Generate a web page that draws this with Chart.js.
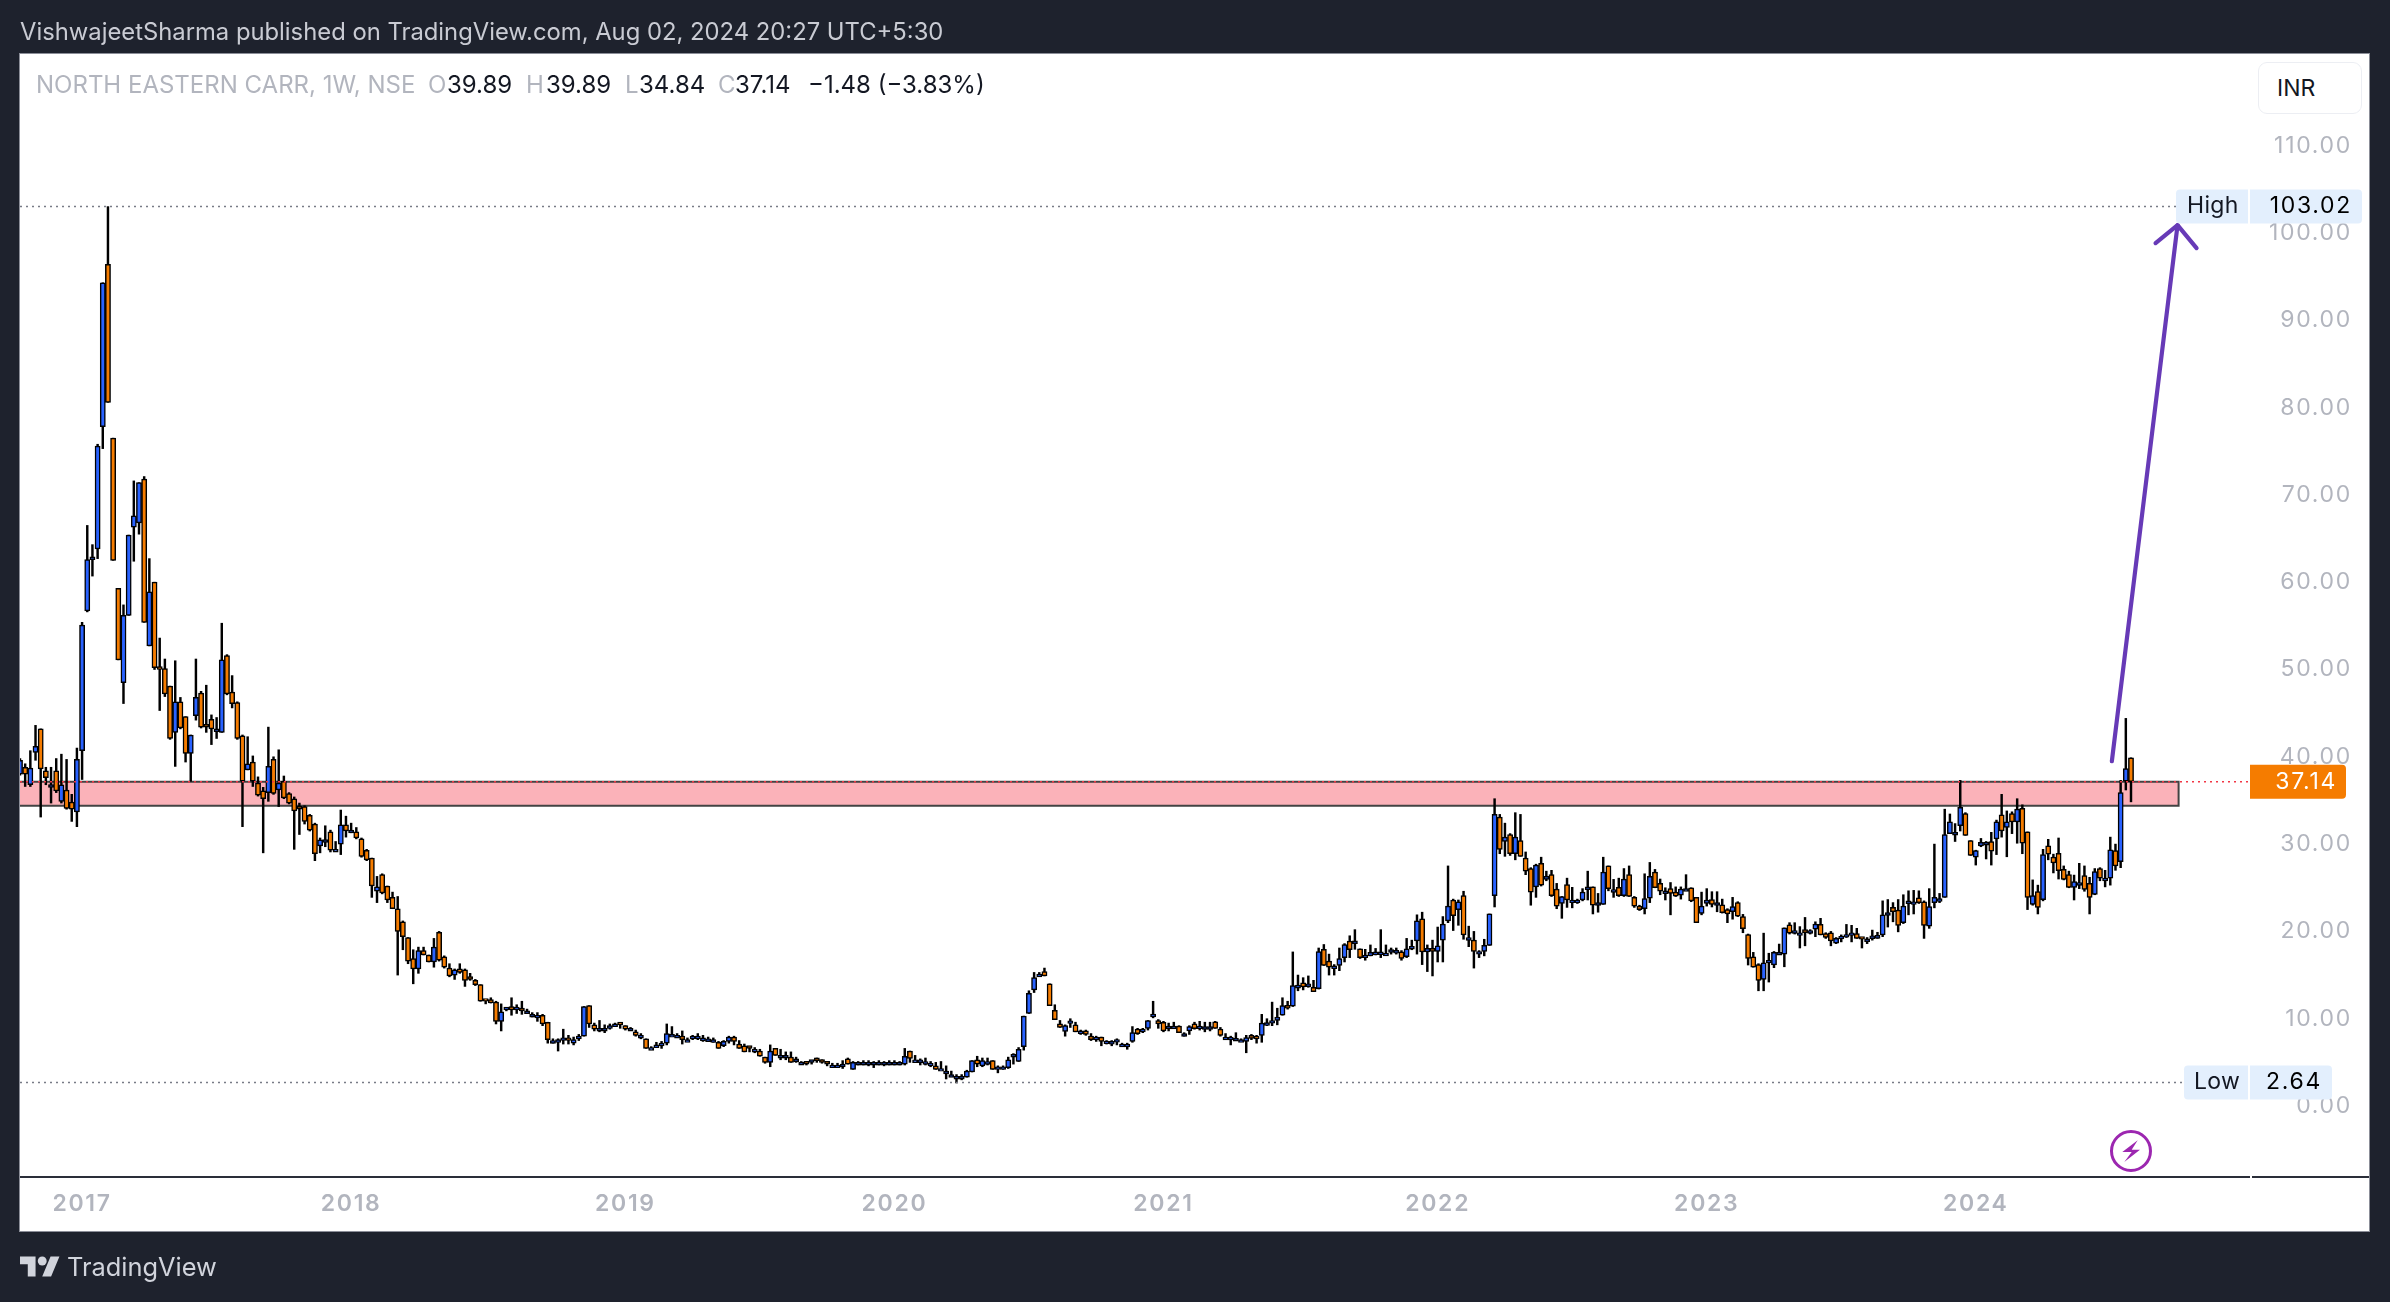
<!DOCTYPE html>
<html><head><meta charset="utf-8">
<script src="https://cdn.jsdelivr.net/npm/chart.js@4"></script>
<style>
html,body{margin:0;padding:0;background:#1e222d;width:2390px;height:1302px;overflow:hidden;font-family:Inter,"Noto Sans",sans-serif}
#wrap{position:absolute;left:0;top:0;width:2390px;height:1302px;overflow:hidden}
canvas{position:absolute;left:0;top:0;display:block}
.t{position:absolute;white-space:pre;line-height:1}
</style></head><body>
<div id="wrap"><canvas id="c" width="2390" height="1302"></canvas></div>
<div class="t" id="pub" style="left:20px;top:20px;font-size:23.8px;color:#c9cbd3">VishwajeetSharma published on TradingView.com, Aug 02, 2024 20:27 UTC+5:30</div>
<div class="t" style="left:36px;top:73px;font-size:24px;color:#b2b5be">NORTH EASTERN CARR, 1W, NSE</div>
<div class="t" style="left:428px;top:73px;font-size:24px;color:#b2b5be">O</div><div class="t" style="left:447px;top:73px;font-size:24px;color:#131722">39.89</div>
<div class="t" style="left:526px;top:73px;font-size:24px;color:#b2b5be">H</div><div class="t" style="left:546px;top:73px;font-size:24px;color:#131722">39.89</div>
<div class="t" style="left:625px;top:73px;font-size:24px;color:#b2b5be">L</div><div class="t" style="left:639px;top:73px;font-size:24px;color:#131722">34.84</div>
<div class="t" style="left:718px;top:73px;font-size:24px;color:#b2b5be">C</div><div class="t" style="left:735px;top:73px;font-size:24px;color:#131722">37.14</div>
<div class="t" style="left:808px;top:73px;font-size:24px;color:#131722">−1.48 (−3.83%)</div>
<div style="position:absolute;left:2258px;top:62px;width:102px;height:50px;border:1.5px solid #eceef3;border-radius:9px;background:#fff"></div>
<div class="t" style="left:2277px;top:77px;font-size:23px;color:#131722">INR</div>
<svg style="position:absolute;left:20px;top:1252px" width="40" height="28" viewBox="0 0 36 25"><path fill="#d1d4dc" d="M14 22H7V11H0V4h14v18zM28 22h-8l7.5-18h8L28 22z"/><circle cx="20" cy="8" r="4" fill="#d1d4dc"/></svg>
<div class="t" style="left:67px;top:1254px;font-size:25.4px;color:#d1d4dc">TradingView</div>
<script>
const opens=[
38.0,38.8,36.8,40.5,43.2,38.4,36.5,38.4,34.9,36.2,
34.8,33.7,40.7,56.7,62.9,63.8,77.8,96.4,76.5,59.3,
48.5,56.2,66.3,66.8,71.8,52.7,60.0,50.3,50.1,48.1,
42.8,46.3,44.6,40.4,44.7,47.3,43.5,44.3,43.2,42.8,
51.6,47.4,46.2,42.4,38.5,39.4,37.0,36.1,35.9,39.7,
36.2,37.2,35.8,35.2,34.1,34.3,33.3,32.3,29.8,30.2,
31.4,29.4,30.0,32.2,31.6,31.4,30.6,29.3,28.4,24.6,
26.5,25.2,23.9,22.6,21.1,19.3,16.9,15.7,17.8,17.3,
16.5,19.9,17.1,15.8,15.0,15.7,15.6,14.6,14.4,13.9,
12.1,12.2,11.9,9.7,11.0,11.4,11.0,11.2,10.9,10.5,
10.4,10.4,9.6,7.5,7.6,7.5,7.8,7.2,8.0,8.0,
11.5,9.3,8.9,8.9,9.2,9.4,9.4,9.2,8.9,8.5,
8.1,7.7,6.7,7.0,7.2,7.2,8.2,8.1,8.0,7.6,
8.0,8.0,7.8,7.7,7.6,7.3,6.9,7.4,7.9,7.1,
6.9,6.7,6.5,6.3,5.6,5.0,6.6,5.8,5.8,5.6,
5.4,5.0,4.9,5.0,5.3,5.1,4.9,4.7,4.7,4.8,
5.4,4.2,5.0,5.0,5.0,5.0,5.0,5.0,5.0,5.0,
5.0,4.8,6.3,5.3,5.3,5.1,4.9,4.6,4.3,4.0,
3.6,3.4,3.4,3.3,3.9,5.3,4.6,5.1,5.2,4.5,
4.5,4.4,5.6,5.1,6.8,10.6,13.3,15.1,15.4,14.0,
10.95,9.4,8.55,9.45,9.3,8.6,8.6,8.0,7.9,7.9,
7.45,7.4,7.3,7.1,7.1,7.4,8.8,8.8,8.9,10.2,
9.8,9.6,9.15,9.15,9.15,8.3,8.6,9.4,8.85,9.1,
9.1,9.65,8.8,7.9,7.9,7.75,7.6,7.4,8.1,8.0,
8.1,9.55,9.8,9.8,10.4,11.5,11.45,13.5,14.1,14.0,
13.6,13.45,17.95,16.6,16.05,16.1,17.0,18.9,18.6,18.0,
17.3,17.2,17.65,17.65,17.5,17.6,17.5,17.65,17.1,18.3,
18.9,21.45,17.65,18.05,17.7,19.0,21.2,23.6,22.5,24.1,
19.3,19.0,17.7,17.7,18.4,24.1,33.1,30.3,31.1,28.9,
30.4,28.4,27.2,25.1,27.8,25.96,26.5,24.85,23.2,25.35,
23.6,23.6,23.6,25.1,25.1,23.3,23.1,27.5,24.8,25.05,
24.1,26.5,23.9,22.9,22.6,23.8,26.8,25.5,24.65,24.9,
24.5,24.15,24.9,25.0,23.9,22.05,23.2,23.65,23.3,23.05,
22.5,22.25,23.3,21.7,19.65,17.1,16.2,14.5,16.7,16.15,
17.6,17.4,20.75,20.1,19.85,20.2,20.1,20.25,20.8,19.75,
19.85,18.65,19.45,19.65,19.85,19.75,19.15,19.15,19.5,19.2,
19.6,22.15,22.75,22.45,21.0,23.5,23.4,23.85,23.4,20.6,
23.3,23.75,23.9,31.2,31.35,32.1,33.5,30.4,28.5,29.8,
30.2,30.3,30.6,33.35,31.9,33.5,32.55,34.1,31.4,23.1,
24.55,23.65,29.8,28.5,28.95,27.1,26.5,25.05,25.6,26.4,
25.5,24.25,27.2,26.1,26.1,29.25,28.0,37.2,39.89];
const highs=[
39.8,39.2,40.7,43.6,43.2,38.8,38.8,39.8,40.3,39.7,
35.7,41.0,55.4,66.5,64.3,75.8,94.3,103.02,76.5,59.3,
57.4,65.4,71.6,71.4,72.1,62.7,60.0,53.6,51.2,48.1,
51.0,46.8,44.6,42.5,51.2,47.5,48.2,44.8,44.5,55.3,
51.7,49.3,46.3,42.5,42.3,40.1,37.7,36.5,43.4,40.0,
40.8,37.8,35.9,35.4,34.7,34.4,33.4,32.4,30.7,32.1,
31.6,30.3,33.9,33.2,32.4,31.9,30.7,29.4,28.4,26.3,
26.6,25.2,24.5,24.0,21.2,19.3,17.9,18.2,18.2,17.3,
19.2,20.0,17.2,16.3,15.7,16.3,15.7,15.2,14.5,13.9,
12.1,12.4,12.0,11.7,11.3,12.4,11.6,12.0,11.1,10.7,
10.7,10.5,9.6,7.7,7.7,8.8,8.1,7.9,8.2,11.4,
11.5,9.5,9.8,9.3,9.4,9.5,9.4,9.2,9.0,8.7,
8.3,7.7,6.8,7.3,7.4,9.4,9.1,8.3,8.6,7.8,
8.1,8.3,8.1,7.9,7.8,7.4,7.5,8.0,8.0,7.5,
7.1,6.8,6.7,6.5,5.6,7.0,6.6,6.5,6.2,6.2,
5.6,5.1,5.0,5.2,5.5,5.3,5.0,4.9,4.9,5.2,
5.5,5.1,5.1,5.2,5.2,5.1,5.2,5.1,5.2,5.2,
5.1,6.6,6.3,5.8,5.4,5.5,5.1,5.0,5.1,4.6,
4.0,3.6,3.6,4.1,5.2,5.7,5.5,5.5,5.2,4.6,
4.6,5.6,6.0,6.7,10.3,13.2,15.3,15.3,15.8,14.0,
11.6,9.8,9.3,10.0,9.6,8.7,8.7,8.3,8.0,7.9,
7.5,7.5,7.7,7.2,7.2,9.1,8.9,8.9,9.8,12.0,
9.9,9.7,9.5,9.6,9.2,8.4,9.2,9.6,9.7,9.6,
9.6,9.7,9.0,8.3,8.0,8.4,7.7,8.1,8.2,8.1,
10.5,10.0,11.9,11.2,12.4,12.0,17.65,15.0,14.7,14.9,
14.4,18.1,18.5,17.4,16.2,18.1,18.6,19.5,20.2,18.0,
17.95,18.45,18.05,20.2,18.45,18.1,18.1,17.8,19.2,19.0,
21.9,22.2,18.45,19.0,20.5,21.7,27.5,23.7,23.6,24.6,
20.6,20.0,17.8,19.1,22.0,35.2,33.4,32.4,31.2,33.6,
33.4,29.1,27.3,27.7,28.5,26.9,27.0,25.5,24.0,26.1,
25.05,23.7,24.9,26.9,25.1,24.35,28.5,27.5,25.96,26.1,
27.2,27.5,24.0,23.0,26.6,27.9,27.1,26.0,25.0,25.6,
25.1,25.1,26.5,25.0,23.9,24.5,24.9,24.55,24.55,23.7,
22.6,23.9,23.4,21.95,19.7,17.6,16.3,19.8,17.5,17.7,
18.55,20.4,21.0,21.0,20.55,21.6,20.2,21.1,21.5,19.85,
20.0,19.3,19.6,20.8,20.7,20.35,19.3,19.3,20.15,19.9,
23.5,23.65,23.3,23.65,24.2,24.65,24.7,24.65,23.5,24.9,
30.0,24.35,34.0,33.45,32.35,37.3,33.6,30.4,29.3,30.65,
30.3,31.35,32.75,35.7,33.8,33.7,35.2,34.5,31.4,25.9,
25.3,29.4,30.55,28.85,30.7,27.5,26.9,26.45,27.8,27.5,
26.2,27.2,27.3,27.0,30.8,30.0,37.3,44.4,39.89];
const lows=[
37.9,36.6,36.6,39.6,33.1,36.8,34.7,35.9,34.7,34.0,
32.6,32.0,37.4,56.6,60.7,62.7,75.3,80.6,62.5,51.1,
46.1,56.2,62.4,65.5,55.4,52.7,50.0,45.3,46.9,42.0,
38.9,43.2,39.4,37.2,44.2,43.3,42.8,41.4,42.1,42.8,
47.1,45.6,42.0,32.0,38.5,36.6,35.5,29.0,34.9,35.7,
34.3,35.2,34.6,29.4,31.1,32.3,31.5,28.1,29.0,29.7,
29.1,29.4,28.8,30.8,31.3,30.6,28.5,28.1,23.9,23.3,
24.3,23.3,22.6,15.0,17.9,16.3,14.0,15.2,17.3,16.5,
15.9,16.6,15.8,14.8,14.5,15.2,13.7,14.4,13.8,12.0,
11.7,11.8,9.4,8.6,10.9,10.4,10.6,10.5,10.6,10.2,
9.7,9.2,7.2,7.2,6.3,7.1,7.1,7.0,7.5,8.0,
9.0,8.6,8.5,8.4,8.8,9.2,8.9,8.7,8.7,8.0,
7.7,6.6,6.6,6.7,6.6,7.0,8.0,7.9,7.1,7.4,
7.6,7.6,7.4,7.4,7.3,6.6,6.8,7.2,7.0,6.6,
6.2,6.2,6.1,5.7,4.9,4.5,5.8,5.3,5.3,5.0,
5.0,4.9,4.7,4.8,5.0,4.9,4.6,4.5,4.5,4.3,
4.8,4.2,4.7,4.7,4.6,4.4,4.7,4.6,4.7,4.7,
4.7,4.7,5.0,5.2,4.7,4.7,4.5,4.2,4.2,3.1,
3.4,2.64,3.0,3.3,3.9,4.5,4.5,4.7,4.2,3.8,
4.2,4.3,4.8,5.1,6.4,10.6,13.0,14.9,14.9,11.5,
9.9,9.0,8.0,9.0,8.5,8.2,8.1,7.5,7.4,6.9,
7.1,6.9,7.0,6.8,6.5,7.3,8.2,8.4,8.7,10.1,
8.9,8.5,8.6,9.0,8.4,8.0,8.2,8.8,8.7,8.5,
8.6,8.9,8.0,7.6,7.0,7.5,7.4,6.1,7.6,7.2,
7.3,9.2,9.2,9.3,10.4,11.1,11.4,13.2,13.3,13.6,
13.1,13.4,16.1,15.0,15.0,15.5,16.5,17.0,17.95,16.9,
16.7,17.2,17.3,17.0,17.4,17.4,17.4,16.7,17.0,17.9,
17.4,16.2,15.4,14.9,16.5,16.5,21.0,20.1,20.7,19.1,
18.25,15.8,17.0,17.2,18.4,22.8,28.9,28.6,28.7,28.2,
28.6,26.5,23.0,23.9,25.2,25.8,24.0,22.6,21.5,22.75,
22.7,23.2,23.5,23.6,22.0,22.2,23.1,24.65,23.9,24.0,
24.0,24.0,22.75,22.4,22.0,23.3,25.0,24.2,23.6,21.9,
24.0,23.7,24.8,23.4,21.0,21.9,22.9,22.8,22.25,22.1,
21.0,21.4,21.7,19.85,16.15,15.9,13.2,13.2,14.2,15.85,
17.4,15.95,19.7,19.7,18.1,18.35,19.7,19.4,19.6,19.2,
18.35,18.6,18.8,19.3,18.8,19.2,18.1,18.6,19.0,19.2,
19.4,20.5,21.1,19.95,20.9,21.9,22.0,23.2,19.2,20.35,
22.7,23.3,23.9,31.2,30.3,31.5,31.0,28.7,27.6,29.7,
28.3,27.6,28.8,30.8,28.55,31.2,30.1,28.9,22.5,23.0,
22.0,23.5,28.2,26.7,26.0,25.9,25.0,23.6,24.9,24.6,
22.0,24.2,25.8,25.1,25.3,27.0,27.3,36.2,34.84];
const closes=[
39.6,38.0,38.7,41.2,38.6,37.6,36.6,36.1,36.8,34.1,
34.0,39.7,55.1,62.6,62.9,75.6,94.3,80.6,62.5,51.1,
56.2,65.4,67.6,71.4,55.4,58.9,50.2,50.0,47.2,42.1,
46.3,43.3,40.4,42.5,46.8,43.4,43.4,43.2,43.2,51.1,
47.2,46.1,42.1,37.2,39.2,37.2,35.6,35.2,38.9,35.8,
37.0,35.3,34.7,33.8,34.0,32.6,31.6,28.9,30.5,30.5,
29.3,29.4,32.2,31.5,31.6,30.7,28.6,28.2,25.2,25.1,
24.4,23.6,22.6,20.0,19.4,16.6,15.7,17.8,17.3,16.5,
18.2,16.7,15.9,14.9,15.6,15.3,14.4,14.5,13.9,12.0,
12.0,11.8,9.7,10.8,11.2,11.0,11.2,10.9,10.9,10.5,
10.4,9.4,7.6,7.5,7.6,7.7,7.5,7.6,8.0,11.4,
9.4,8.8,8.9,8.9,9.2,9.4,9.3,8.8,8.9,8.1,
8.1,6.6,6.7,7.0,7.2,8.3,8.2,8.1,7.6,7.6,
8.0,8.0,7.8,7.7,7.6,6.6,7.4,7.9,7.4,6.6,
6.2,6.6,6.5,5.7,5.0,6.3,5.8,5.8,5.8,5.0,
5.4,5.0,4.8,5.1,5.2,5.0,4.8,4.7,4.7,4.8,
4.8,5.0,5.0,5.0,5.0,5.0,5.0,5.0,5.0,5.0,
5.0,5.7,5.45,5.3,5.3,5.1,4.9,4.2,4.3,4.0,
3.6,3.4,3.4,4.0,5.2,4.8,5.2,5.1,4.2,4.5,
4.5,5.3,5.7,6.5,10.3,12.9,14.7,15.1,14.9,11.5,
9.9,9.0,9.2,9.5,8.5,8.6,8.2,7.6,7.9,7.4,
7.45,7.4,7.6,7.1,7.1,8.4,8.3,8.8,9.8,10.5,
9.4,8.6,9.15,9.15,8.4,8.3,9.1,8.85,9.15,9.1,
9.1,8.9,8.1,7.9,7.9,7.75,7.6,7.85,7.75,7.7,
9.5,9.55,9.8,10.2,11.5,11.2,13.8,13.85,13.65,14.0,
13.1,17.7,16.1,15.9,16.05,16.9,18.5,17.9,18.9,17.0,
17.3,17.6,17.65,17.65,17.5,17.7,17.8,16.9,18.0,18.3,
21.2,17.65,18.05,17.7,18.35,20.85,22.9,21.8,23.4,19.6,
19.3,17.7,17.7,18.4,22.0,33.4,29.4,30.8,28.9,30.8,
28.6,26.9,24.5,27.6,25.3,26.3,24.1,22.9,24.0,23.6,
23.6,23.6,24.5,25.1,23.0,23.3,26.8,24.9,24.8,24.1,
26.0,24.0,22.9,22.5,23.75,26.3,25.0,24.6,24.65,24.35,
24.05,24.85,24.9,23.5,21.0,22.9,23.6,23.1,23.3,22.15,
22.0,22.85,21.75,20.3,16.9,15.9,14.4,16.4,16.7,17.6,
17.6,20.4,19.8,20.1,19.85,19.85,20.1,20.85,19.6,19.3,
18.9,19.2,19.45,19.65,19.85,19.2,19.1,19.15,19.5,19.55,
21.9,22.15,22.25,20.7,22.9,23.5,23.4,23.3,20.7,22.85,
23.9,23.75,31.1,32.55,31.35,34.2,31.0,28.7,29.25,30.2,
30.2,29.2,32.55,31.5,32.55,32.55,34.0,30.1,23.9,24.1,
22.75,28.8,28.85,27.85,26.95,25.95,25.05,25.7,25.6,24.8,
23.9,26.85,26.1,26.1,29.35,27.5,35.9,38.64,37.14];

const emptyWeeksAhead=23;
const yearLabels=['2017','2018','2019','2020','2021','2022','2023','2024'];
const yearWeekIndex=[12,64,117,169,221,274,326,378];
const priceTicks=[0,10,20,30,40,50,60,70,80,90,100,110];
const yMin=-8.13,yMax=120.5;
const lastPrice=37.14,highPrice=103.02,lowPrice=2.64,zoneBottom=34.4;
const zoneEndWeek=417.2;
const arrowFrom={week:404.3,price:39.5},arrowTo={week:417,price:100.9};

const UP='#2962ff',DOWN='#f57c00',INK='#000000';
const weeks=Array.from({length:opens.length+emptyWeeksAhead},(_,i)=>'W'+i);

function roundRect(c,x,y,w,h,r,fill){c.fillStyle=fill;c.beginPath();c.roundRect(x,y,w,h,r);c.fill();}
function dotted(c,x0,x1,y,col,dash){c.save();c.strokeStyle=col;c.lineWidth=1.5;c.setLineDash(dash);c.beginPath();c.moveTo(x0,y);c.lineTo(x1,y);c.stroke();c.restore();}

const overlay={
 id:'overlay',
 beforeDraw(ch){const c=ch.ctx;c.save();c.fillStyle='#fff';c.fillRect(20,54,2349,1177);c.strokeStyle='#8b8e98';c.lineWidth=1;c.strokeRect(19.5,53.5,2350,1178);
  c.fillStyle='#2a2e39';c.fillRect(20,1176,2230,2);c.fillRect(2252,1176,117,2);c.restore();
  c.letterSpacing='1.7px';},
 beforeDatasetsDraw(ch){const c=ch.ctx,x=ch.scales.x,y=ch.scales.y;c.save();
  const x1=x.getPixelForValue(zoneEndWeek),yt=y.getPixelForValue(lastPrice),yb=y.getPixelForValue(zoneBottom);
  c.fillStyle='#fbb2b9';c.fillRect(20,yt,x1-20,yb-yt);
  c.strokeStyle='#434343';c.lineWidth=2;c.beginPath();c.moveTo(20,yt);c.lineTo(x1,yt);c.lineTo(x1,yb);c.lineTo(20,yb);c.stroke();
  c.restore();},
 afterDatasetsDraw(ch){const c=ch.ctx,x=ch.scales.x,y=ch.scales.y;c.save();
  const yH=Math.round(y.getPixelForValue(highPrice))-.5,yL=Math.round(y.getPixelForValue(lowPrice))-.5,yP=y.getPixelForValue(lastPrice);
  dotted(c,20,2176,yH,'#787b86',[2,4]);dotted(c,20,2184,yL,'#787b86',[2,4]);dotted(c,20,2250,yP,'#f23645',[2,4]);
  const ax=x.getPixelForValue(arrowFrom.week),ay=y.getPixelForValue(arrowFrom.price),bx=x.getPixelForValue(arrowTo.week),by=y.getPixelForValue(arrowTo.price);
  c.strokeStyle='#673ab7';c.lineWidth=4.2;c.lineCap='round';c.lineJoin='round';
  c.beginPath();c.moveTo(ax,ay);c.lineTo(bx,by);c.stroke();
  c.beginPath();c.moveTo(bx-22,by+18);c.lineTo(bx,by);c.lineTo(bx+19,by+23);c.stroke();
  c.font='23px Inter';c.textBaseline='middle';
  roundRect(c,2176,yH-17,72,34,[4,0,0,4],'#e3effd');roundRect(c,2250,yH-17,112,34,[0,4,4,0],'#e3effd');
  c.letterSpacing='0.3px';c.fillStyle='#131722';c.textAlign='left';c.fillText('High',2187,yH);
  c.letterSpacing='1.7px';c.textAlign='right';c.fillStyle='#000';c.fillText(highPrice.toFixed(2),2352,yH);
  roundRect(c,2184,yL-17,64,34,[4,0,0,4],'#e3effd');roundRect(c,2250,yL-17,82,34,[0,4,4,0],'#e3effd');
  c.letterSpacing='0.3px';c.fillStyle='#131722';c.textAlign='left';c.fillText('Low',2194,yL);
  c.letterSpacing='1.7px';c.textAlign='right';c.fillStyle='#000';c.fillText(lowPrice.toFixed(2),2322,yL);
  roundRect(c,2250,yP-17,96,34,[0,4,4,0],'#f57c00');
  c.fillStyle='#fff';c.textAlign='right';c.fillText(lastPrice.toFixed(2),2337,yP);
  const ix=x.getPixelForValue(opens.length-1),iy=1151;
  c.strokeStyle='#9c27b0';c.lineWidth=3;c.beginPath();c.arc(ix,iy,19.5,0,Math.PI*2);c.stroke();
  c.fillStyle='#9c27b0';c.beginPath();[[6.7,-10.7],[-8.7,1],[.7,1],[-6.7,11],[9,-1.3],[.7,-1.3]].forEach((p,i)=>i?c.lineTo(ix+p[0],iy+p[1]):c.moveTo(ix+p[0],iy+p[1]));c.closePath();c.fill();
  c.restore();}
};

new Chart(document.getElementById('c'),{
 type:'bar',
 data:{labels:weeks,datasets:[
  {label:'Body',order:1,grouped:false,data:opens.map((o,i)=>[o,closes[i]]),barThickness:5.2,minBarLength:2.8,borderWidth:1.5,borderColor:INK,borderSkipped:false,
   backgroundColor:opens.map((o,i)=>closes[i]>=o?UP:DOWN)},
  {label:'Wick',order:2,grouped:false,data:lows.map((l,i)=>[l,highs[i]]),barThickness:1.8,backgroundColor:INK,borderWidth:0}
 ]},
 options:{responsive:false,animation:false,events:[],
  layout:{padding:{left:20,right:38,top:54,bottom:69}},
  plugins:{legend:{display:false},tooltip:{enabled:false},title:{display:false}},
  scales:{
   x:{type:'category',offset:false,grid:{display:false},border:{display:false},
    afterBuildTicks(s){s.ticks=yearWeekIndex.map(v=>({value:v}));},
    afterFit(s){s.height=56;},
    ticks:{autoSkip:false,maxRotation:0,padding:5,color:'#b2b5be',font:{family:'Inter',size:23,weight:'600'},
      callback(v){const k=yearWeekIndex.indexOf(v);return k>=0?yearLabels[k]:'';}}},
   y:{type:'linear',position:'right',min:yMin,max:yMax,grid:{display:false},border:{display:false},
    afterBuildTicks(s){s.ticks=priceTicks.map(v=>({value:v}));},
    afterFit(s){s.width=102;},
    ticks:{padding:0,crossAlign:'far',color:'#b2b5be',font:{family:'Inter',size:23},callback:v=>Number(v).toFixed(2)}}
  }},
 plugins:[overlay]
});
</script>
</body></html>
